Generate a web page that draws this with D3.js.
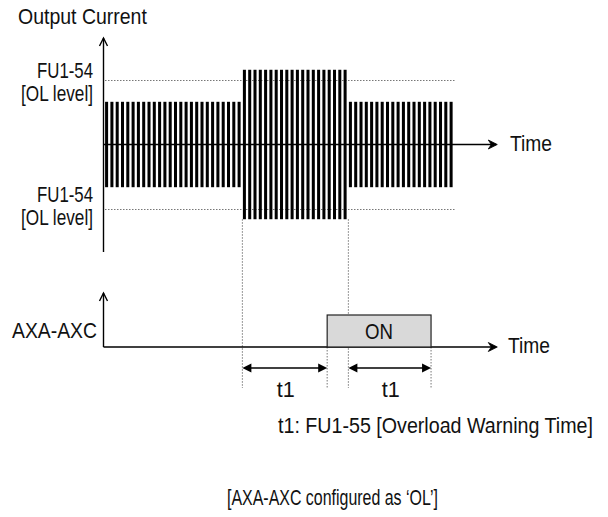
<!DOCTYPE html>
<html><head><meta charset="utf-8">
<script src="https://cdn.jsdelivr.net/npm/d3@7"></script>
<style>
html,body{margin:0;padding:0;background:#fff;}
svg{display:block;}
text{font-family:"Liberation Sans",Arial,sans-serif;fill:#111;}
</style></head>
<body>
<svg id="c" width="608" height="517"></svg>
<script>
// ---- data ----
const segmentNames = ["normal", "overload", "normal"];
const segmentCycles = [26, 20, 20];
const segmentAmplitude = [1.0, 1.75, 1.0];
const olLevel = 1.5;
const segmentBoundaries = [26.2, 46.2];     // overload start / end (time units)
const onInterval = [42.2, 61.8];            // AXA-AXC ON interval
const t1Spans = [[26.2, 42.2], [46.2, 61.8]];
const yLabels = ["FU1-54", "[OL level]"];
const texts = {
  yTitle: "Output Current",
  time: "Time",
  relay: "AXA-AXC",
  on: "ON",
  t1: "t1",
  note: "t1: FU1-55 [Overload Warning Time]",
  caption: "[AXA-AXC configured as \u2018OL\u2019]"
};

// ---- scales ----
const svg = d3.select("#c");
const x = d3.scaleLinear().domain([0, 74.3]).range([103.5, 497.3]);
const y = d3.scaleLinear().domain([-1, 1]).range([144.5 + 42.7, 144.5 - 42.7]);
const yr = d3.scaleLinear().domain([0, 1]).range([347, 315]);

// build stripes from segments
const stripes = [];
let k = 0;
segmentCycles.forEach((n, s) => {
  for (let i = 0; i < n; i++) { stripes.push({t: 0.3 + k, a: segmentAmplitude[s]}); k++; }
});

// helpers: condensed text via horizontal scale to a target width
function txt(str, xx, yy, len, anchor) {
  const t = svg.append("text").attr("font-size", 22)
    .attr("text-anchor", anchor || "start").text(str);
  const w = t.node().getComputedTextLength();
  const sx = w > 0 ? len / w : 1;
  t.attr("transform", `translate(${xx},${yy}) scale(${sx},1)`);
  return t;
}
function openArrowRight(xx, yy) {
  svg.append("path").attr("d", `M${xx-9},${yy-4.5} L${xx},${yy} L${xx-9},${yy+4.5} L${xx-6},${yy} Z`)
    .attr("fill", "#000").attr("stroke", "#000").attr("stroke-width", 0.8);
}
function openArrowUp(xx, yy) {
  svg.append("path").attr("d", `M${xx-4},${yy+8} L${xx},${yy} L${xx+4},${yy+8}`)
    .attr("fill", "none").attr("stroke", "#000").attr("stroke-width", 1.4);
}
function filledHead(xx, yy, dir) {
  svg.append("path").attr("d", `M${xx},${yy} L${xx - dir*9},${yy-4.5} L${xx - dir*9},${yy+4.5} Z`).attr("fill", "#000");
}

// dotted guide lines (behind)
const dot = svg.append("g").attr("stroke", "#777").attr("stroke-width", 1).attr("stroke-dasharray", "1.5,1.5").attr("fill", "none");
[olLevel, -olLevel].forEach(v => {
  dot.append("line").attr("x1", 105).attr("x2", 456).attr("y1", Math.round(y(v)) + 0.5).attr("y2", Math.round(y(v)) + 0.5);
});
segmentBoundaries.forEach(t => {
  dot.append("line").attr("x1", x(t)).attr("x2", x(t)).attr("y1", y(-1.75)).attr("y2", 388);
});
onInterval.forEach(t => {
  dot.append("line").attr("x1", x(t)).attr("x2", x(t)).attr("y1", yr(0)).attr("y2", 388);
});

// stripes
svg.append("g").selectAll("rect").data(stripes).join("rect")
  .attr("x", d => x(d.t)).attr("width", d => x(d.t + 0.57) - x(d.t))
  .attr("y", d => y(d.a)).attr("height", d => y(-d.a) - y(d.a))
  .attr("fill", "#000");

// top axes
svg.append("line").attr("x1", x(0)).attr("x2", x(0)).attr("y1", 38).attr("y2", 252).attr("stroke", "#000").attr("stroke-width", 1.4);
openArrowUp(x(0), 38);
svg.append("line").attr("x1", x(0)).attr("x2", 496).attr("y1", y(0)).attr("y2", y(0)).attr("stroke", "#000").attr("stroke-width", 1.6);
openArrowRight(497.3, y(0));

// texts top
txt(texts.yTitle, 18, 24, 129);
txt(yLabels[0], 93, 78, 56, "end");
txt(yLabels[1], 93, 101, 72, "end");
txt(yLabels[0], 93, 202, 56, "end");
txt(yLabels[1], 93, 225, 72, "end");
txt(texts.time, 510, 151, 42);

// bottom relay signal
svg.append("line").attr("x1", x(0)).attr("x2", x(0)).attr("y1", 293).attr("y2", yr(0)).attr("stroke", "#000").attr("stroke-width", 1.4);
openArrowUp(x(0), 293);
svg.append("line").attr("x1", x(0)).attr("x2", 496).attr("y1", yr(0)).attr("y2", yr(0)).attr("stroke", "#000").attr("stroke-width", 1.4);
openArrowRight(497.3, yr(0));
svg.append("rect").attr("x", x(onInterval[0])).attr("y", yr(1))
  .attr("width", x(onInterval[1]) - x(onInterval[0])).attr("height", yr(0) - yr(1))
  .attr("fill", "#d9d9d9").attr("stroke", "#222").attr("stroke-width", 1.2);
txt(texts.on, (x(onInterval[0]) + x(onInterval[1])) / 2, 339, 28, "middle");
txt(texts.relay, 97, 338, 85, "end");
txt(texts.time, 508, 353, 42);

// t1 arrows
t1Spans.forEach(([a, b]) => {
  const x1 = x(a), x2 = x(b), yy = 368;
  svg.append("line").attr("x1", x1 + 4).attr("x2", x2 - 4).attr("y1", yy).attr("y2", yy).attr("stroke", "#000").attr("stroke-width", 1.4);
  filledHead(x1, yy, -1);
  filledHead(x2, yy, 1);
  txt(texts.t1, (x1 + x2) / 2 + 1, 397, 18, "middle");
});

txt(texts.note, 278, 433, 315);
txt(texts.caption, 227, 505, 211);
</script>
</body></html>
